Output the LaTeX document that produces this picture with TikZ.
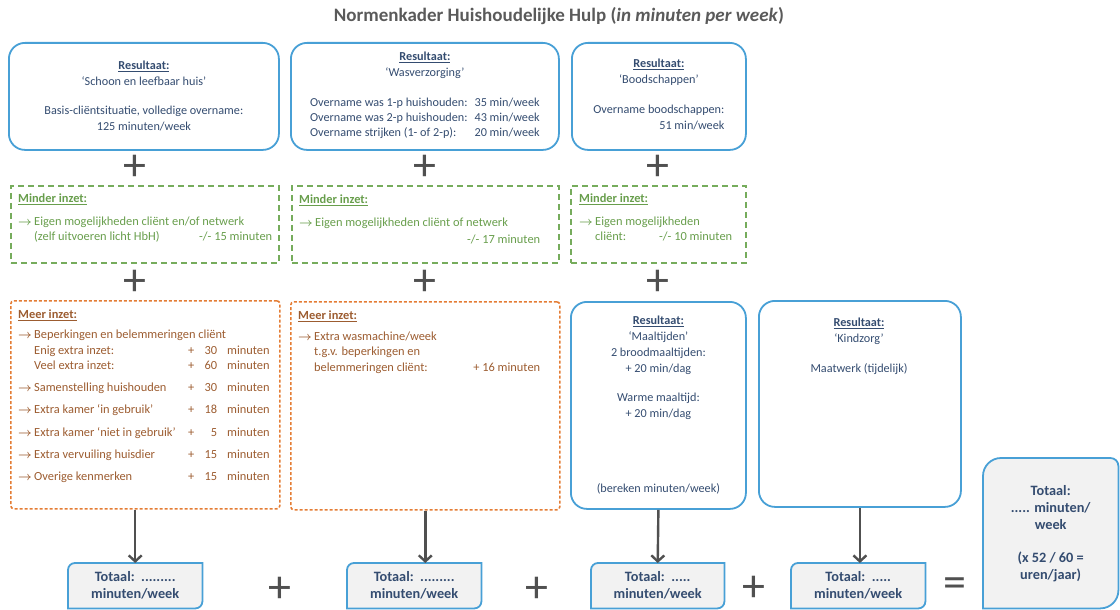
\documentclass[tikz,border=0pt]{standalone}
\usepackage{fontspec}
\setmainfont{Carlito}
\usetikzlibrary{arrows.meta,backgrounds}
\definecolor{bblue}{RGB}{72,160,214}
\definecolor{navy}{RGB}{52,76,112}
\definecolor{gline}{RGB}{118,172,92}
\definecolor{gtext}{RGB}{104,158,76}
\definecolor{oline}{RGB}{228,124,52}
\definecolor{otext}{RGB}{156,92,48}
\definecolor{dgray}{RGB}{80,80,80}
\definecolor{tgray}{RGB}{90,90,90}
\definecolor{lgray}{RGB}{242,242,242}
\newcommand\bodyf{\fontsize{12.2}{16}\selectfont}
\newcommand\grnf{\fontsize{12.4}{15}\selectfont}
\newcommand\totf{\fontsize{14.3}{17}\selectfont\bfseries}
\newcommand\myarrow{{\boldmath$\rightarrow$}}
\newcommand\orow[3]{\makebox[16pt][l]{#1}\makebox[152pt][l]{#2}\makebox[10pt]{+}\makebox[21pt][r]{#3}\hspace{10pt}minuten}
\newcommand\rdshape[2]{\filldraw[totline] (#1.north east) -- ([xshift=#2]#1.north west) arc[start angle=90,end angle=180,radius=#2] -- (#1.south west) -- ([xshift=-#2]#1.south east) arc[start angle=270,end angle=360,radius=#2] -- cycle;}
\tikzset{
  resbox/.style={draw=bblue, line width=1.8pt, rounded corners=16pt, text=navy, align=center, font=\bodyf, inner sep=0pt, anchor=north west},
  greenbox/.style={draw=gline, line width=1.8pt, dash pattern=on 6pt off 4pt, anchor=north west, inner sep=0pt},
  orangebox/.style={draw=oline, line width=1.6pt, dash pattern=on 3pt off 2pt, rounded corners=3pt, anchor=north west, inner sep=0pt},
  gtxt/.style={text=gtext, font=\grnf, anchor=north west, inner sep=0pt, align=left},
  otxt/.style={text=otext, font=\grnf, anchor=north west, inner sep=0pt, align=left},
  btxt/.style={text=navy, font=\bodyf, anchor=north, inner sep=0pt, align=center},
  plus/.style={text=dgray, font=\fontsize{46}{46}\selectfont, inner sep=0pt},
  arr/.style={draw=dgray, line width=2.4pt, -{Straight Barb[length=6pt,width=13pt,line width=2.4pt]}},
  totbox/.style={anchor=north west, inner sep=0pt, text=navy, font=\totf, align=center},
  totline/.style={draw=bblue, fill=lgray, line width=1.8pt},
}
\begin{document}
\begin{tikzpicture}[x=1pt,y=-1pt]
\useasboundingbox (0,0) rectangle (1120,610);

\node[text=tgray, font=\fontsize{19}{22}\selectfont\bfseries] (title) at (559,16) {Normenkader Huishoudelijke Hulp (\textit{in minuten per week})};

% top result boxes
\node[resbox, minimum width=270pt, minimum height=107pt] (r1) at (8,42) {\underline{\textbf{Resultaat:}}\\ ‘Schoon en leefbaar huis’\\[13pt] Basis-cliëntsituatie, volledige overname:\\ 125 minuten/week};
\node[resbox, minimum width=268pt, minimum height=107pt] (r2) at (290,42) {\underline{\textbf{Resultaat:}}\\ ‘Wasverzorging’\\[14pt]
{\renewcommand\arraystretch{0.92}\begin{tabular}[t]{@{}l@{\hspace{7pt}}l@{}}
Overname was 1-p huishouden: & 35 min/week\\
Overname was 2-p huishouden: & 43 min/week\\
Overname strijken (1- of 2-p): & 20 min/week
\end{tabular}}};
\node[resbox, minimum width=174pt, minimum height=107pt] (r3) at (571,42) {\underline{\textbf{Resultaat:}}\\ ‘Boodschappen’\\[14pt]
\begin{tabular}[t]{@{}r@{}}Overname boodschappen:\\ 51 min/week\end{tabular}};

% green boxes
\node[greenbox, minimum width=268pt, minimum height=77pt] (g1) at (10,185) {};
\node[greenbox, minimum width=267pt, minimum height=77pt] (g2) at (291,185) {};
\node[greenbox, minimum width=175pt, minimum height=77pt] (g3) at (570,185) {};
\node[gtxt] (g1t) at (18,194) {\underline{\textbf{Minder inzet:}}\\[8pt]
\makebox[16pt][l]{\myarrow}Eigen mogelijkheden cliënt en/of netwerk\\
\makebox[254pt][l]{\hspace*{16pt}(zelf uitvoeren licht HbH)\hfill -/- 15 minuten}};
\node[gtxt] (g2t) at (299,195) {\underline{\textbf{Minder inzet:}}\\[8pt]
\makebox[16pt][l]{\myarrow}Eigen mogelijkheden cliënt of netwerk\\[2pt]
\makebox[241pt][r]{-/- 17 minuten}};
\node[gtxt] (g3t) at (579,194) {\underline{\textbf{Minder inzet:}}\\[8pt]
\makebox[16pt][l]{\myarrow}Eigen mogelijkheden\\
\hspace*{16pt}\makebox[137pt][l]{cliënt:\hfill -/- 10 minuten}};

% orange boxes
\node[orangebox, minimum width=269pt, minimum height=208pt] (m1) at (10,300) {};
\node[orangebox, minimum width=269pt, minimum height=208pt] (m2) at (290,301) {};
\node[otxt] (m1t) at (18,310) {\underline{\textbf{Meer inzet:}}\\[5pt]
\makebox[16pt][l]{\myarrow}Beperkingen en belemmeringen cliënt\\[1pt]
\orow{}{Enig extra inzet:}{30}\\
\orow{}{Veel extra inzet:}{60}\\[7pt]
\orow{\myarrow}{Samenstelling huishouden}{30}\\[7pt]
\orow{\myarrow}{Extra kamer ‘in gebruik’}{18}\\[8pt]
\orow{\myarrow}{Extra kamer ‘niet in gebruik’}{5}\\[7pt]
\orow{\myarrow}{Extra vervuiling huisdier}{15}\\[7pt]
\orow{\myarrow}{Overige kenmerken}{15}};
\node[otxt] (m2t) at (298,311) {\underline{\textbf{Meer inzet:}}\\[6pt]
\makebox[16pt][l]{\myarrow}Extra wasmachine/week\\
\hspace*{16pt}t.g.v. beperkingen en\\[1pt]
\hspace*{16pt}\makebox[226pt][l]{belemmeringen cliënt:\hfill + 16 minuten}};

% maaltijden and kindzorg
\node[resbox, minimum width=175pt, minimum height=207pt] (r4) at (570,301) {\underline{\textbf{Resultaat:}}\\ ‘Maaltijden’\\ 2 broodmaaltijden:\\ + 20 min/dag\\[13pt] Warme maaltijd:\\ + 20 min/dag\\[59pt] (bereken minuten/week)};
\node[resbox, minimum width=202pt, minimum height=206pt] (r5) at (758,300) {};
\node[btxt] (r5t) at (859,318) {\underline{\textbf{Resultaat:}}\\ ‘Kindzorg’\\[14pt] Maatwerk (tijdelijk)};

% plus signs
\node[plus] (p1) at (135,168) {+};
\node[plus] (p2) at (425,168) {+};
\node[plus] (p3) at (658,168) {+};
\node[plus] (p4) at (135,283) {+};
\node[plus] (p5) at (425,283) {+};
\node[plus] (p6) at (658,283) {+};
\node[plus] (p7) at (280,590) {+};
\node[plus] (p8) at (537,590) {+};
\node[plus] (p9) at (754,589) {+};
\node[plus] (eq) at (955,588) {=};

% totals
\node[totbox, minimum width=134pt, minimum height=45pt] (t1) at (68,563) {Totaal:\ \ .........\\ minuten/week};
\node[totbox, minimum width=134pt, minimum height=45pt] (t2) at (347,563) {Totaal:\ \ .........\\ minuten/week};
\node[totbox, minimum width=133pt, minimum height=45pt] (t3) at (591,563) {Totaal:\ \ .....\\ minuten/week};
\node[totbox, minimum width=134pt, minimum height=45pt] (t4) at (791,563) {Totaal:\ \ .....\\ minuten/week};
\node[totbox, minimum width=135pt, minimum height=150pt] (tf) at (983,458) {Totaal:\\ ..... minuten/\\ week\\[16pt] (x 52 / 60 =\\ uren/jaar)};

\begin{scope}[on background layer]
\rdshape{t1}{7pt}
\rdshape{t2}{7pt}
\rdshape{t3}{7pt}
\rdshape{t4}{7pt}
\filldraw[totline] ([xshift=-8pt]tf.north east) -- ([xshift=18pt]tf.north west) arc[start angle=90,end angle=180,radius=18pt] -- (tf.south west) -- ([xshift=-18pt]tf.south east) arc[start angle=270,end angle=360,radius=18pt] -- ([yshift=-8pt]tf.north east) arc[start angle=0,end angle=90,radius=8pt] -- cycle;
\end{scope}

% arrows
\draw[arr] (m1.south -| t1.north) -- (t1.north);
\draw[arr] (m2.south) -- (m2.south |- t2.north);
\draw[arr] (r4.south) -- (t3.north);
\draw[arr] (r5.south) -- (r5.south |- t4.north);
\end{tikzpicture}
\end{document}
